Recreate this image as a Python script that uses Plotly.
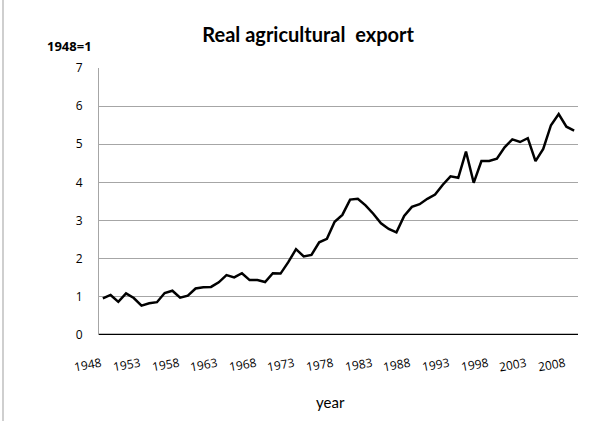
import plotly.graph_objects as go

# Real agricultural export index, 1948 = 1
years = list(range(1948, 2010))
export_index = [
    0.96, 1.05, 0.87, 1.09, 0.97, 0.77, 0.83, 0.86, 1.10, 1.16,
    0.98, 1.03, 1.22, 1.25, 1.26, 1.38, 1.57, 1.51, 1.62, 1.44,
    1.44, 1.39, 1.62, 1.61, 1.91, 2.25, 2.06, 2.10, 2.43, 2.52,
    2.97, 3.15, 3.55, 3.57, 3.40, 3.18, 2.93, 2.78, 2.69, 3.12,
    3.36, 3.43, 3.57, 3.68, 3.94, 4.16, 4.12, 4.81, 3.99, 4.56,
    4.56, 4.62, 4.92, 5.13, 5.06, 5.16, 4.56, 4.88, 5.50, 5.79,
    5.46, 5.36,
]
x_ticks = list(range(1948, 2009, 5))
x_tick_labels = [str(v) for v in x_ticks]
y_ticks = list(range(0, 8))

TITLE_FONT = "Lato, 'Open Sans', sans-serif"
NUM_FONT = "'Open Sans', 'Noto Sans', sans-serif"
PLOT_H = 267  # plot area height in px, used for paper offsets

fig = go.Figure()
fig.add_trace(go.Scatter(
    x=years, y=export_index, mode="lines",
    line=dict(color="black", width=2.5),
    hoverinfo="x+y",
))

fig.update_layout(
    width=603, height=421,
    margin=dict(l=99, r=25, t=68, b=86),
    paper_bgcolor="white", plot_bgcolor="white",
    showlegend=False,
    font=dict(family=NUM_FONT, color="black"),
    title=dict(
        text="<b>Real agricultural  export</b>",
        x=0.511, xanchor="center", y=1 - 35 / 421, yanchor="middle",
        font=dict(size=20, family=TITLE_FONT, color="black"),
    ),
    xaxis=dict(
        range=[1947.5, 2009.5],
        tickvals=x_ticks, showticklabels=False, ticks="",
        showgrid=False, zeroline=False, showline=False,
    ),
    yaxis=dict(
        range=[0, 7], tickvals=y_ticks,
        ticks="", ticklabelstandoff=13,
        tickfont=dict(size=12, family=NUM_FONT, color="black"),
        showgrid=True, gridcolor="#a6a6a6", gridwidth=1,
        zeroline=False,
        showline=True, linecolor="#a6a6a6", linewidth=1,
    ),
)

# Slanted year labels under the category axis
for yr, lab in zip(x_ticks, x_tick_labels):
    fig.add_annotation(text=lab, xref="x", yref="paper", x=yr, y=-29 / PLOT_H,
                       xanchor="right", yanchor="middle", xshift=3,
                       textangle=-10, showarrow=False,
                       font=dict(size=12, family=NUM_FONT, color="black"))

# Black baseline at zero
fig.add_shape(type="line", xref="paper", yref="y", x0=0, x1=1, y0=0, y1=0,
              line=dict(color="black", width=2.5))

# Thin frame edge on the left of the chart area
fig.add_shape(type="line", xref="paper", yref="paper",
              x0=-96 / 479, x1=-96 / 479, y0=335 / PLOT_H, y1=-86 / PLOT_H,
              line=dict(color="#bfbfbf", width=1.5))

fig.add_annotation(text="<b>1948=1</b>", xref="paper", yref="paper",
                   x=(69 - 99) / 479, y=(335 - 46) / PLOT_H,
                   xanchor="center", yanchor="middle", showarrow=False,
                   font=dict(size=13, family=NUM_FONT, color="black"))

fig.add_annotation(text="year", xref="paper", yref="paper",
                   x=(330 - 99) / 479, y=(335 - 402) / PLOT_H,
                   xanchor="center", yanchor="middle", showarrow=False,
                   font=dict(size=15, family=TITLE_FONT, color="black"))

fig.write_html("out.html")
